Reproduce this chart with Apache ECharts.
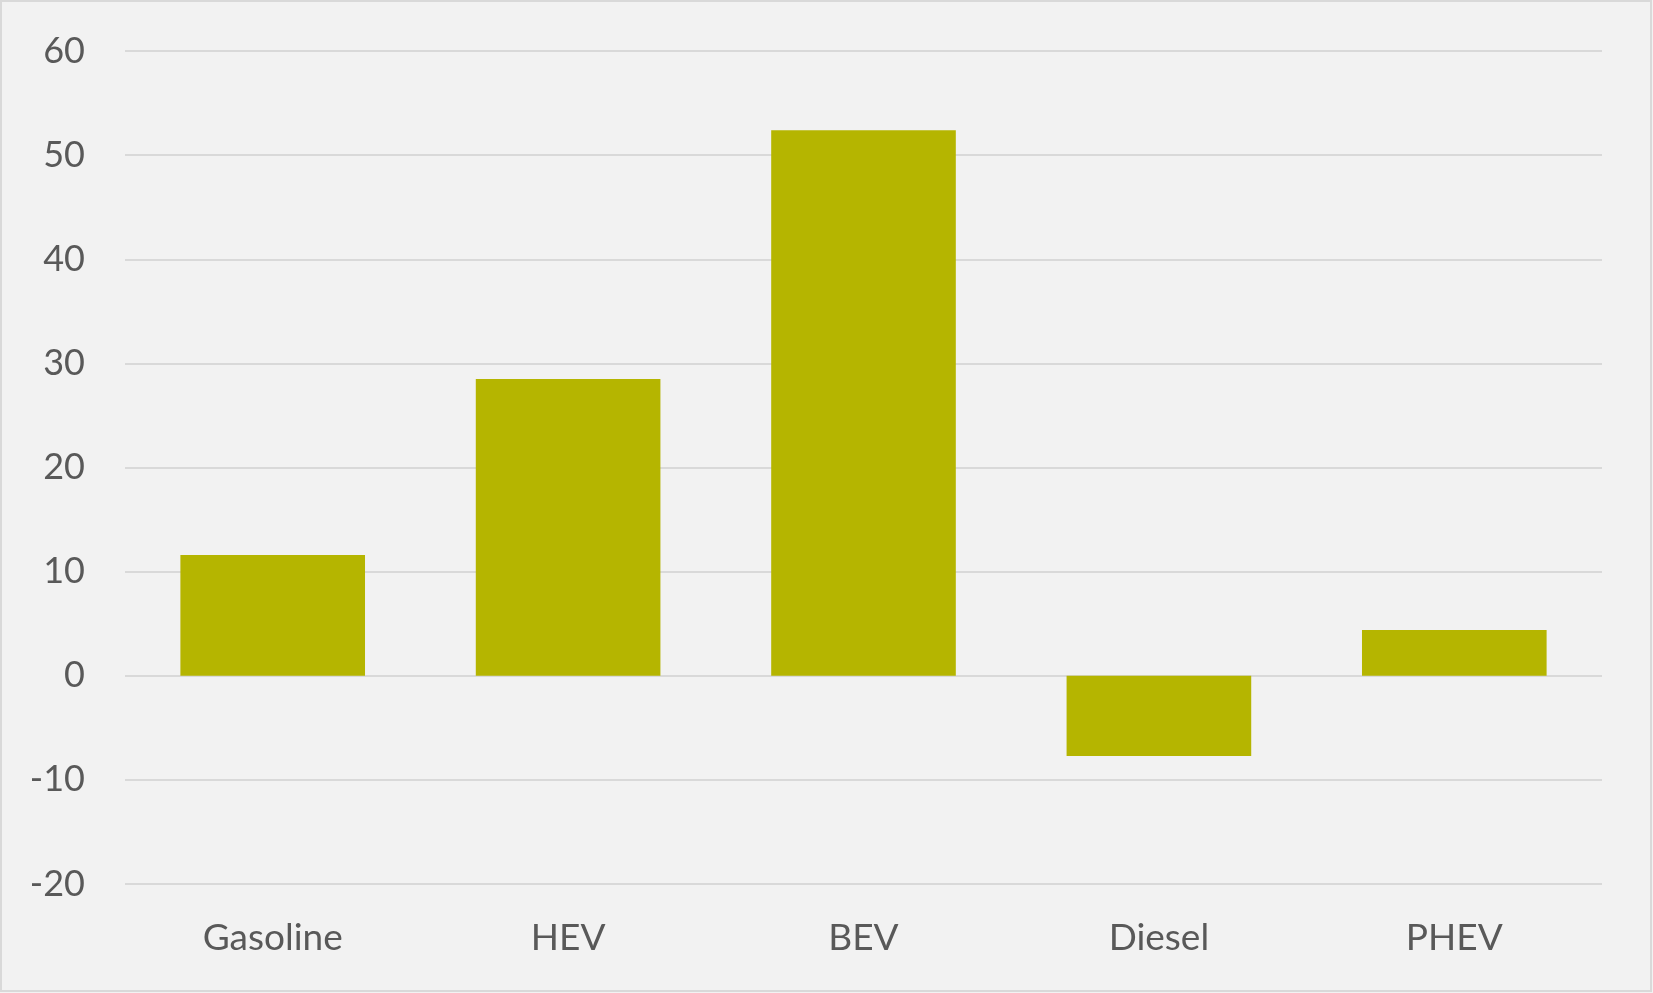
<!DOCTYPE html>
<html>
<head>
<meta charset="utf-8">
<script src="https://cdn.jsdelivr.net/npm/echarts@6/dist/echarts.min.js"></script>
<style>
html,body{margin:0;padding:0;background:#f2f2f2;}
#chart{width:1653px;height:993px;}
</style>
</head>
<body>
<div id="chart"></div>
<script>
const categories = ['Gasoline', 'HEV', 'BEV', 'Diesel', 'PHEV'];
const values = [11.6, 28.5, 52.4, -7.7, 4.4];
const yTicks = [-20, -10, 0, 10, 20, 30, 40, 50, 60];

const chart = echarts.init(document.getElementById('chart'), null, {renderer: 'canvas'});
chart.setOption({
  backgroundColor: '#f2f2f2',
  animation: false,
  graphic: [{
    type: 'rect',
    shape: {x: 1, y: 1, width: 1650, height: 990},
    style: {fill: 'none', stroke: '#d9d9d9', lineWidth: 2},
    silent: true
  }],
  grid: {left: 125, right: 51, top: 51, bottom: 109, containLabel: false},
  xAxis: {
    type: 'category',
    data: categories,
    axisLine: {show: false},
    axisTick: {show: false},
    axisLabel: {color: '#595959', fontSize: 37, fontFamily: 'Lato', margin: 36}
  },
  yAxis: {
    type: 'value',
    min: yTicks[0],
    max: yTicks[yTicks.length - 1],
    interval: 10,
    axisLine: {show: false},
    axisTick: {show: false},
    axisLabel: {color: '#595959', fontSize: 36, fontFamily: 'Lato', margin: 40},
    splitLine: {lineStyle: {color: '#d9d9d9', width: 2}}
  },
  series: [{
    type: 'bar',
    data: values,
    barCategoryGap: '37.5%',
    itemStyle: {color: '#b5b500'}
  }]
});
</script>
</body>
</html>
